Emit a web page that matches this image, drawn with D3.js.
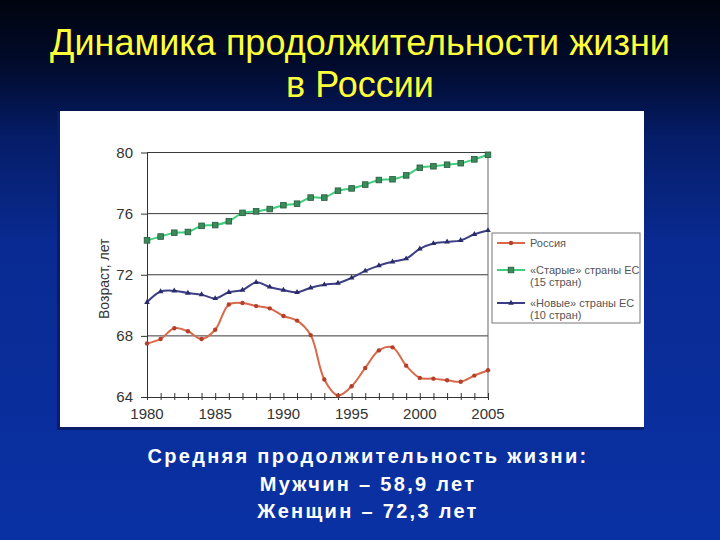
<!DOCTYPE html>
<html>
<head>
<meta charset="utf-8">
<script src="https://cdn.jsdelivr.net/npm/d3@7"></script>
<style>
  body { margin: 0; padding: 0; overflow: hidden; }
  svg { display: block; }
</style>
</head>
<body>
<div id="slide"></div>
<script>
// data
var years = [1980, 1981, 1982, 1983, 1984, 1985, 1986, 1987, 1988, 1989, 1990, 1991, 1992,
             1993, 1994, 1995, 1996, 1997, 1998, 1999, 2000, 2001, 2002, 2003, 2004, 2005];
var russia = [67.5, 67.8, 68.5, 68.3, 67.8, 68.4, 70.05, 70.15, 69.95, 69.8, 69.3, 69.0, 68.05,
              65.15, 64.1, 64.7, 65.9, 67.05, 67.25, 66.05, 65.25, 65.2, 65.1, 65.0, 65.4, 65.75];
var oldEU = [74.25, 74.5, 74.75, 74.8, 75.2, 75.25, 75.5, 76.05, 76.15, 76.3, 76.55, 76.65, 77.05,
             77.05, 77.5, 77.65, 77.9, 78.2, 78.25, 78.5, 79.0, 79.1, 79.2, 79.3, 79.55, 79.85];
var newEU = [70.2, 70.9, 70.95, 70.8, 70.7, 70.45, 70.85, 71.0, 71.5, 71.2, 71.0, 70.85, 71.15,
             71.35, 71.45, 71.8, 72.25, 72.6, 72.85, 73.05, 73.7, 74.05, 74.15, 74.25, 74.65, 74.9];
var yTicks = [64, 68, 72, 76, 80];
var xLabels = [1980, 1985, 1990, 1995, 2000, 2005];
var seriesNames = ["Россия", ["«Старые» страны ЕС", "(15 стран)"], ["«Новые» страны ЕС", "(10 стран)"]];
var titleLines = ["Динамика продолжительности жизни", "в России"];
var noteLines = ["Средняя продолжительность жизни:", "Мужчин – 58,9 лет", "Женщин – 72,3 лет"];

var W = 720, H = 540;
var font = "'Liberation Sans', Arial, sans-serif";

var svg = d3.select("#slide")
  .append("svg")
    .attr("width", W)
    .attr("height", H);

// background gradient
var defs = svg.append("defs");
var grad = defs.append("linearGradient")
  .attr("id", "bg").attr("x1", 0).attr("y1", 0).attr("x2", 0).attr("y2", 1);
grad.append("stop").attr("offset", "0%").attr("stop-color", "#00040e");
grad.append("stop").attr("offset", "12%").attr("stop-color", "#010b2c");
grad.append("stop").attr("offset", "25%").attr("stop-color", "#051c66");
grad.append("stop").attr("offset", "45%").attr("stop-color", "#092a92");
grad.append("stop").attr("offset", "100%").attr("stop-color", "#0a31a4");
svg.append("rect").attr("width", W).attr("height", H).attr("fill", "url(#bg)");

// title
svg.selectAll(".title")
  .data(titleLines)
  .enter()
  .append("text")
  .attr("x", 360)
  .attr("y", function(d, i){ return 55 + i * 42 })
  .attr("text-anchor", "middle")
  .attr("font-family", font)
  .attr("font-size", "36px")
  .attr("fill", "#ffff3a")
  .text(function(d){ return d });

// white chart panel with a little dark edge
svg.append("rect").attr("x", 57).attr("y", 111).attr("width", 587).attr("height", 319).attr("fill", "#0a1c6a");
svg.append("rect").attr("x", 60).attr("y", 111).attr("width", 584).attr("height", 316).attr("fill", "#ffffff");

// plot area
var plot = {left: 147, top: 152.5, right: 488, bottom: 397};

var x = d3.scaleLinear()
  .domain([1980, 2005])
  .range([plot.left, plot.right]);

var y = d3.scaleLinear()
  .domain([64, 80])
  .range([plot.bottom, plot.top]);

// gridlines
svg.selectAll(".grid")
  .data(yTicks.slice(1))
  .enter()
  .append("line")
  .attr("x1", plot.left).attr("x2", plot.right)
  .attr("y1", function(d){ return y(d) }).attr("y2", function(d){ return y(d) })
  .attr("stroke", "#3a3a3a")
  .attr("stroke-width", 1);

// right border of plot area
svg.append("line")
  .attr("x1", plot.right).attr("x2", plot.right)
  .attr("y1", plot.top).attr("y2", plot.bottom)
  .attr("stroke", "#666").attr("stroke-width", 1);

// y axis
var yAxis = svg.append("g")
  .attr("transform", "translate(" + plot.left + ",0)")
  .call(d3.axisLeft(y).tickValues(yTicks).tickSize(6).tickPadding(8).tickSizeOuter(0));
yAxis.select(".domain").attr("stroke", "#333");
yAxis.selectAll(".tick line").attr("stroke", "#333");
yAxis.selectAll("text")
  .attr("font-family", font)
  .attr("font-size", "15px")
  .attr("fill", "#333");

// x axis: ticks every year crossing the line, labels every 5 years
var xAxis = svg.append("g")
  .attr("transform", "translate(0," + plot.bottom + ")")
  .call(d3.axisBottom(x).tickValues(years).tickSize(3).tickSizeOuter(0).tickFormat(""));
xAxis.select(".domain").attr("stroke", "#333");
xAxis.selectAll(".tick line").attr("stroke", "#333").attr("y1", -4);

svg.selectAll(".xlab")
  .data(xLabels)
  .enter()
  .append("text")
  .attr("x", function(d){ return x(d) })
  .attr("y", plot.bottom + 22)
  .attr("text-anchor", "middle")
  .attr("font-family", font)
  .attr("font-size", "15px")
  .attr("fill", "#333")
  .text(function(d){ return d });

// y axis title
svg.append("text")
  .attr("transform", "translate(109," + ((plot.top + plot.bottom) / 2 + 4) + ") rotate(-90)")
  .attr("text-anchor", "middle")
  .attr("font-family", font)
  .attr("font-size", "14px")
  .attr("fill", "#333")
  .text("Возраст, лет");

// series
var line = d3.line()
  .x(function(d){ return x(d[0]) })
  .y(function(d){ return y(d[1]) })
  .curve(d3.curveCatmullRom.alpha(0.5));

var series = [
  {name: seriesNames[0], values: russia, line: "#d8694a", mark: "#b5402a", shape: "circle"},
  {name: seriesNames[1], values: oldEU, line: "#3fcf7e", mark: "#2f7a4c", shape: "square"},
  {name: seriesNames[2], values: newEU, line: "#3d3f86", mark: "#2a2c6a", shape: "triangle"}
];

function marker(g, s, px, py) {
  if (s.shape == "circle") {
    g.append("circle").attr("cx", px).attr("cy", py).attr("r", 2.2).attr("fill", s.mark);
  } else if (s.shape == "square") {
    g.append("rect").attr("x", px - 2.8).attr("y", py - 2.8).attr("width", 5.6).attr("height", 5.6)
      .attr("fill", "#3b8a5a").attr("stroke", "#245a3a").attr("stroke-width", 0.8);
  } else {
    g.append("path")
      .attr("d", d3.symbol().type(d3.symbolTriangle).size(14)())
      .attr("transform", "translate(" + px + "," + py + ")")
      .attr("fill", s.mark);
  }
}

series.forEach(function(s){
  var pts = years.map(function(yr, i){ return [yr, s.values[i]] });
  svg.append("path")
    .datum(pts)
    .attr("d", line)
    .attr("fill", "none")
    .attr("stroke", s.line)
    .attr("stroke-width", 2);
  var g = svg.append("g");
  pts.forEach(function(p){ marker(g, s, x(p[0]), y(p[1])) });
});

// legend
svg.append("rect")
  .attr("x", 492).attr("y", 233).attr("width", 148).attr("height", 90)
  .attr("fill", "#fff").attr("stroke", "#777").attr("stroke-width", 1);

var legendY = [243, 270, 303];
series.forEach(function(s, i){
  var g = svg.append("g");
  g.append("line")
    .attr("x1", 497).attr("x2", 525)
    .attr("y1", legendY[i]).attr("y2", legendY[i])
    .attr("stroke", s.line).attr("stroke-width", 2);
  marker(g, s, 511, legendY[i]);
  var lines = Array.isArray(s.name) ? s.name : [s.name];
  lines.forEach(function(t, j){
    g.append("text")
      .attr("x", 530)
      .attr("y", legendY[i] + 4 + j * 11.5)
      .attr("font-family", font)
      .attr("font-size", "11px")
      .attr("fill", "#555")
      .text(t);
  });
});

// note under the chart
svg.selectAll(".note")
  .data(noteLines)
  .enter()
  .append("text")
  .attr("x", 368)
  .attr("y", function(d, i){ return 463 + i * 27.5 })
  .attr("text-anchor", "middle")
  .attr("font-family", font)
  .attr("font-weight", "bold")
  .attr("font-size", "20px")
  .attr("letter-spacing", "2.3px")
  .attr("fill", "#ffffff")
  .text(function(d){ return d });
</script>
</body>
</html>
